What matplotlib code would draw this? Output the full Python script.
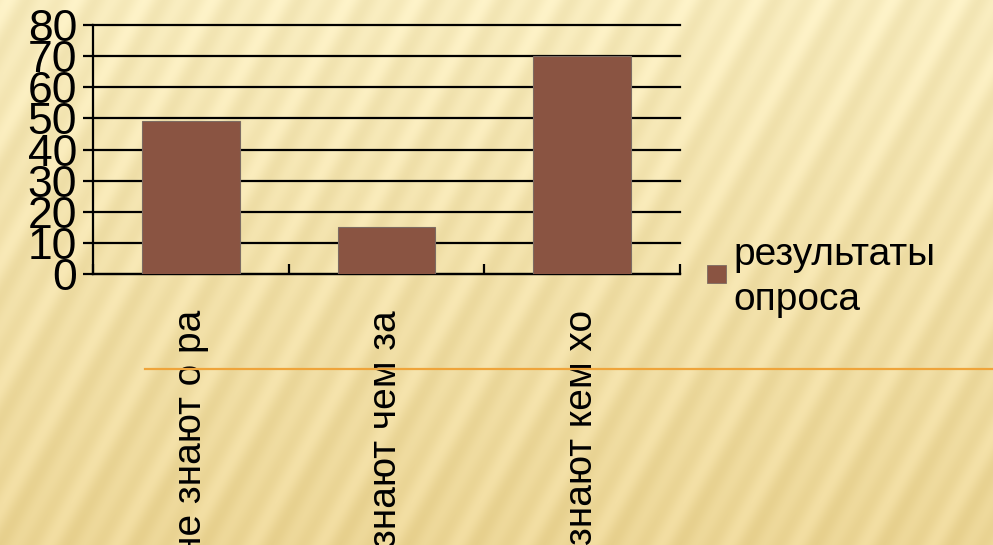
import numpy as np
import matplotlib
matplotlib.use("Agg")
import matplotlib.pyplot as plt
from matplotlib.lines import Line2D
from matplotlib.patches import Rectangle

# data
categories = ["не знают о ра", "знают чем за", "знают кем хо"]
values = [49, 15, 70]
series_name = ["результаты", "опроса"]
y_ticks = [0, 10, 20, 30, 40, 50, 60, 70, 80]

W, H = 993, 545
plt.rcParams['font.family'] = ['Liberation Sans', 'DejaVu Sans']

fig = plt.figure(figsize=(W / 100, H / 100), dpi=100)

# striped slide background
bg = fig.add_axes([0, 0, 1, 1], zorder=-10)
yy, xx = np.mgrid[0:H, 0:W]
t = yy / H
top = np.array([248, 236, 190]) / 255
bot = np.array([236, 214, 150]) / 255
base = top[None, None, :] * (1 - t[..., None]) + bot[None, None, :] * t[..., None]
ph = 2 * np.pi * (xx + 0.55 * yy) / 34.0
s = 0.6 * np.sin(ph) + 0.4 * np.sin(0.5 * ph + 1.3)
img = base + s[..., None] * np.array([0.025, 0.03, 0.045])[None, None, :]
img = np.clip(img, 0, 1)
bg.imshow(img, aspect='auto', interpolation='bilinear')
bg.axis('off')

ax = fig.add_axes([93 / W, 271 / H, 587 / W, 249 / H])
ax.set_facecolor('none')
x = np.arange(len(categories))
ax.bar(x, values, width=0.5, color='#8a5442', edgecolor='#7d6b62', linewidth=0.8, zorder=3)
ax.set_xlim(-0.5, len(categories) - 0.5)
ax.set_ylim(0, 80)

ax.set_yticks(y_ticks)
ax.set_yticklabels([str(v) for v in y_ticks], fontsize=32)
ax.tick_params(axis='y', direction='out', length=7.5, width=1.6, color='black', pad=4)
for v in y_ticks:
    ax.axhline(v, color='black', lw=1.6, zorder=1, clip_on=False)

ax.set_xticks(x)
ax.set_xticklabels(categories, rotation=90, fontsize=28, va='top', ha='center')
ax.tick_params(axis='x', which='major', length=0, pad=26)
ax.set_xticks(np.arange(len(categories) + 1) - 0.5, minor=True)
ax.tick_params(axis='x', which='minor', direction='in', length=7, width=1.6, color='black')

for sp in ['top', 'right']:
    ax.spines[sp].set_visible(False)
ax.spines['left'].set_linewidth(1.6)
ax.spines['bottom'].set_linewidth(1.6)

# legend
fig.patches.append(Rectangle((707 / W, 1 - 283 / H), 19 / W, 18 / H,
                             transform=fig.transFigure, facecolor='#8a5442',
                             edgecolor='#7d6b62', lw=0.6))
fig.text(733 / W, 1 - 265 / H, series_name[0], fontsize=28, va='baseline', ha='left')
fig.text(733 / W, 1 - 310 / H, series_name[1], fontsize=28, va='baseline', ha='left')

# orange slide rule
fig.lines.append(Line2D([145 / W, 1], [1 - 369 / H, 1 - 369 / H],
                        transform=fig.transFigure, color='#efa43a', lw=1.6))

fig.savefig('out.png', dpi=100)
